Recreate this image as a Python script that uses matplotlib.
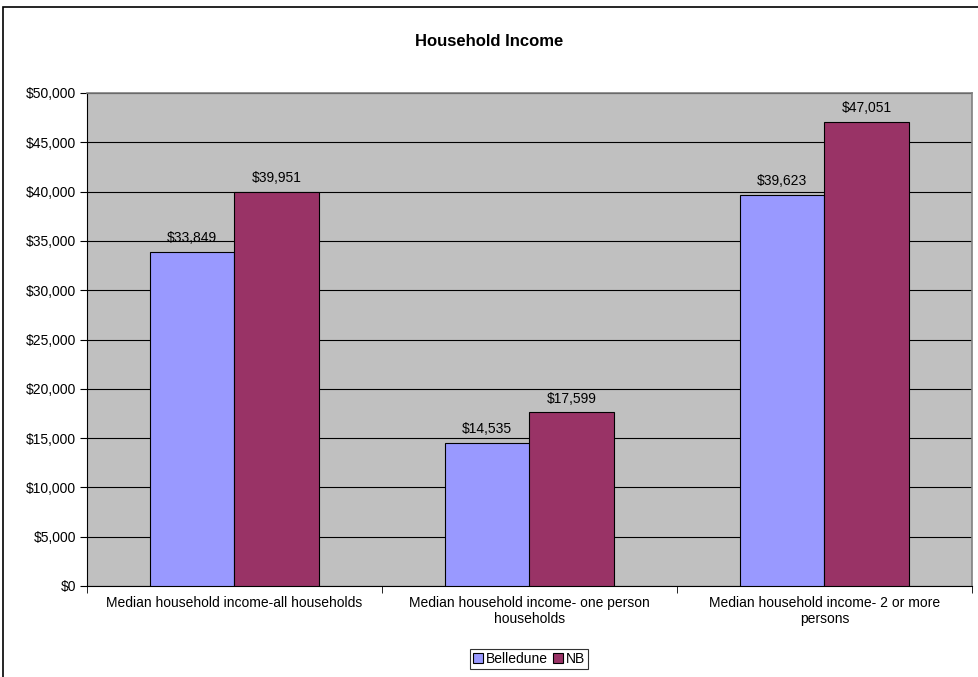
import matplotlib.pyplot as plt
from matplotlib.patches import Rectangle
import numpy as np

plt.rcParams['font.family'] = ['Liberation Sans', 'DejaVu Sans']

# data
categories = ['Median household income-all households',
              'Median household income- one person\nhouseholds',
              'Median household income- 2 or more\npersons']
belledune = [33849, 14535, 39623]
nb = [39951, 17599, 47051]
series_names = ['Belledune', 'NB']
yticks = np.arange(0, 50001, 5000)

fig = plt.figure(figsize=(9.79, 6.77), dpi=100)
ax = fig.add_axes([87/979, 91/677, 885/979, 493/677])

# outer chart border
fig.patches.append(Rectangle((3/979, -0.05), 1.2, 670/677 + 0.05, transform=fig.transFigure,
                             fill=False, edgecolor='black', linewidth=1.2))

x = np.arange(len(categories))
w = 0.288
b1 = ax.bar(x - w/2, belledune, w, color='#9999FF', edgecolor='black', linewidth=0.8,
            label=series_names[0], zorder=3)
b2 = ax.bar(x + w/2, nb, w, color='#993366', edgecolor='black', linewidth=0.8,
            label=series_names[1], zorder=3)

for bars, vals in [(b1, belledune), (b2, nb)]:
    for r, v in zip(bars, vals):
        ax.annotate('${:,}'.format(v), (r.get_x() + r.get_width()/2, v),
                    xytext=(0, 5), textcoords='offset points',
                    ha='center', va='bottom', fontsize=10, zorder=4)

ax.set_facecolor('#C0C0C0')
ax.set_xlim(-0.5, len(categories) - 0.5)
ax.set_ylim(0, 50000)
ax.set_yticks(yticks)
ax.set_yticklabels(['${:,}'.format(v) for v in yticks], fontsize=10)
ax.yaxis.grid(True, color='black', linewidth=0.8, zorder=1)

ax.set_xticks(x)
ax.set_xticklabels(categories, fontsize=10)
ax.tick_params(axis='x', length=0, pad=7)
ax.set_xticks(np.arange(-0.5, len(categories), 1), minor=True)
ax.tick_params(axis='x', which='minor', length=5, direction='out', color='black')
ax.tick_params(axis='y', length=5, direction='out', color='black', pad=3)

for s in ['top', 'right']:
    ax.spines[s].set_color('#808080')
    ax.spines[s].set_linewidth(1.2)
ax.spines['left'].set_color('black')
ax.spines['left'].set_linewidth(0.8)
ax.spines['bottom'].set_color('black')
ax.spines['bottom'].set_linewidth(0.8)

fig.text(0.5, 1 - 42/677, 'Household Income', ha='center', va='center',
         fontsize=12, fontweight='bold')

leg = fig.legend(handles=[b1, b2], loc='center', bbox_to_anchor=(529/979, 1 - 659/677),
                 ncol=2, fontsize=10, frameon=True, fancybox=False, edgecolor='black',
                 handlelength=0.7, handleheight=0.7, handletextpad=0.2, columnspacing=0.4,
                 borderpad=0.25, borderaxespad=0)
leg.get_frame().set_linewidth(0.8)

fig.savefig('out.png', dpi=100)
